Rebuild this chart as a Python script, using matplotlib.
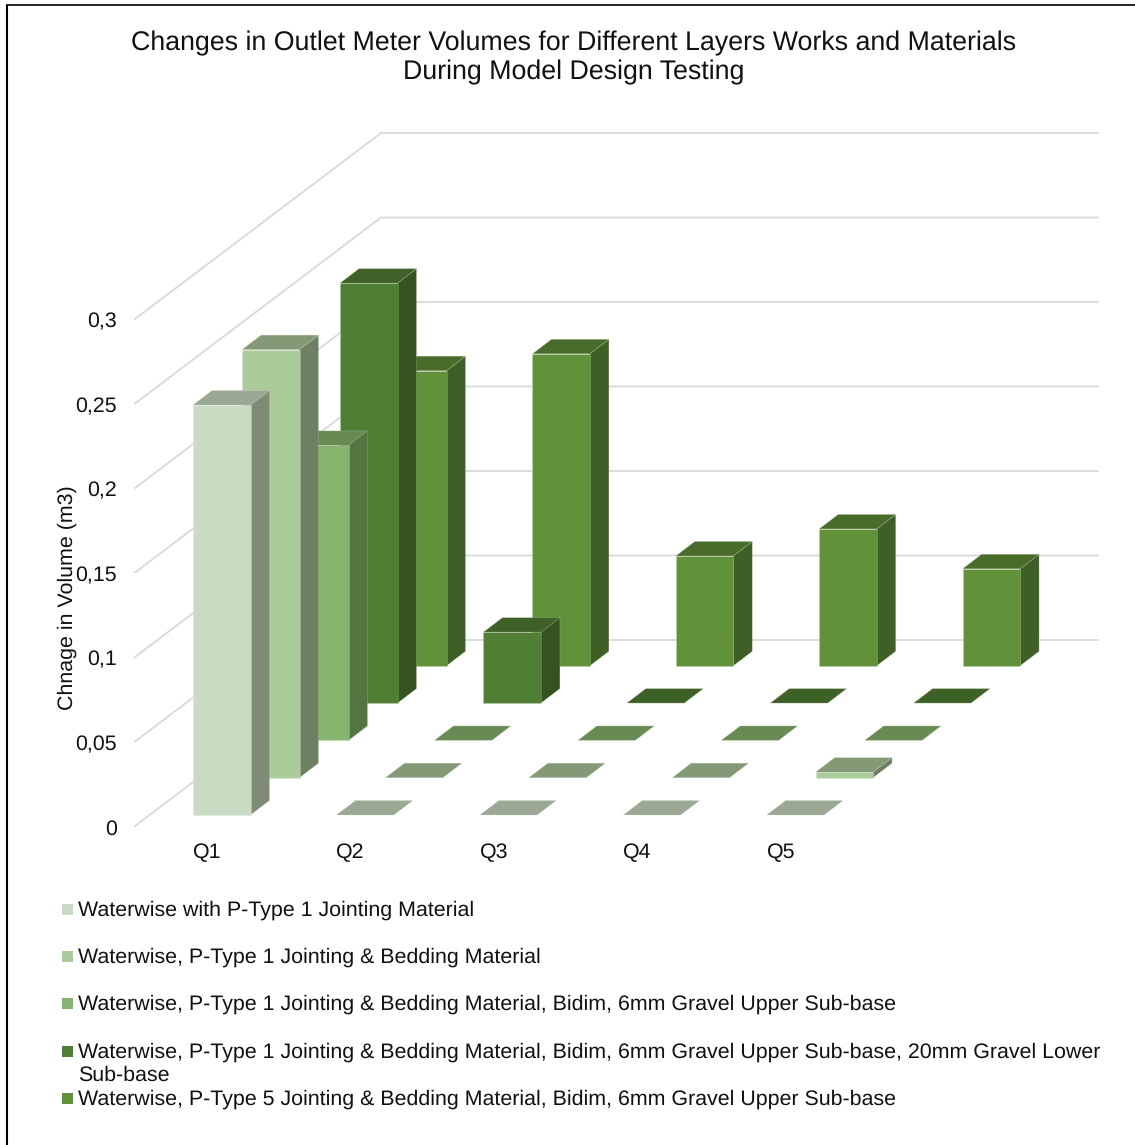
import matplotlib
matplotlib.use("Agg")
import matplotlib.pyplot as plt
from matplotlib.patches import Polygon, Rectangle

plt.rcParams['font.family'] = ['Liberation Sans', 'DejaVu Sans']
plt.rcParams['text.hinting'] = 'no_hinting'

quarters = ['Q1', 'Q2', 'Q3', 'Q4', 'Q5']
series_names = [
    'Waterwise with P-Type 1 Jointing Material',
    'Waterwise, P-Type 1 Jointing & Bedding Material',
    'Waterwise, P-Type 1 Jointing & Bedding Material, Bidim, 6mm Gravel Upper Sub-base',
    'Waterwise, P-Type 1 Jointing & Bedding Material, Bidim, 6mm Gravel Upper Sub-base, 20mm Gravel Lower\nSub-base',
    'Waterwise, P-Type 5 Jointing & Bedding Material, Bidim, 6mm Gravel Upper Sub-base',
]
s1_values = [0.2426, 0, 0, 0, 0]
s2_values = [0.2533, 0, 0, 0, 0.0033]
s3_values = [0.1746, 0, 0, 0, 0]
s4_values = [0.2485, 0.042, 0, 0, 0]
s5_values = [0.1746, 0.1846, 0.065, 0.081, 0.0574]
all_values = [s1_values, s2_values, s3_values, s4_values, s5_values]
y_ticks = [0, 0.05, 0.1, 0.15, 0.2, 0.25, 0.3]
y_tick_labels = ['0', '0,05', '0,1', '0,15', '0,2', '0,25', '0,3']

# (front, side, top) for each series
colors = [
    ('#c9dbc2', '#7f8b77', '#9ba893'),
    ('#accb9b', '#6e8064', '#849976'),
    ('#87b56f', '#537540', '#678b53'),
    ('#507e32', '#355220', '#3e6127'),
    ('#61923a', '#3e5f25', '#4a6c2b'),
]

W, H = 1135, 1145
PX_PER_UNIT = 84.5 / 0.05
BAR_W = 57.5
DEPTH_X, DEPTH_Y = 19, -14.5
EDGE = (0.85, 0.9, 0.82, 0.22)
TEXT = '#111111'


def bar_base(q, s):
    # front-left corner of a bar on the floor
    return 193 + 143.4 * q + 49.0 * s, 815 - 37.3 * s


def draw_bar(ax, q, s, value):
    x, y0 = bar_base(q, s)
    h = value * PX_PER_UNIT
    y1 = y0 - h
    front, side, top = colors[s]
    dx, dy = DEPTH_X, DEPTH_Y
    if value > 0:
        ax.add_patch(Polygon([(x + BAR_W, y0), (x + BAR_W + dx, y0 + dy), (x + BAR_W + dx, y1 + dy), (x + BAR_W, y1)],
                             fc=side, ec=EDGE, lw=0.6, zorder=3))
        ax.add_patch(Rectangle((x, y1), BAR_W, h, fc=front, ec=EDGE, lw=0.6, zorder=3))
    ax.add_patch(Polygon([(x, y1), (x + dx, y1 + dy), (x + BAR_W + dx, y1 + dy), (x + BAR_W, y1)],
                         fc=top, ec=EDGE, lw=0.6, zorder=3))


fig = plt.figure(figsize=(W / 100, H / 100), dpi=100)
ax = fig.add_axes([0, 0, 1, 1])
ax.set_xlim(0, W)
ax.set_ylim(H, 0)
ax.axis('off')

# chart frame
ax.plot([7, 7], [H, 5], color='black', lw=1.5, zorder=1, solid_capstyle='butt')
ax.plot([6, W], [5, 5], color='black', lw=1.2, zorder=1, solid_capstyle='butt')

# gridlines: side wall then back wall
for v, lab in zip(y_ticks, y_tick_labels):
    h = v * PX_PER_UNIT
    ax.plot([135, 381, 1098], [826 - h, 640 - h, 640 - h], color='#d9d9d9', lw=1.3, zorder=1,
            solid_joinstyle='miter')
    ax.text(117, 827 - h, lab, ha='right', va='center_baseline', fontsize=15.4, color=TEXT)

# back series first so the front ones overlap them
for s in range(4, -1, -1):
    for q, val in enumerate(all_values[s]):
        draw_bar(ax, q, s, val)

for q, name in enumerate(quarters):
    ax.text(193 + 143.4 * q, 850, name, ha='left', va='center_baseline', fontsize=15.4, color=TEXT)

ax.text(67.5, 598, 'Chnage in Volume (m3)', rotation=90, ha='center', va='center', fontsize=15.4, color=TEXT)

ax.text(574, 57.5, 'Changes in Outlet Meter Volumes for Different Layers Works and Materials\nDuring Model Design Testing',
        ha='center', va='center', fontsize=19.25, color=TEXT, linespacing=1.2)

# legend
legend_y = [909, 956, 1003, 1051, 1098]
for s, (name, ly) in enumerate(zip(series_names, legend_y)):
    ax.add_patch(Rectangle((62, ly - 5.5), 11, 11, fc=colors[s][0], ec='none'))
    ax.text(78, ly - 9, name, ha='left', va='top', fontsize=15.42, color=TEXT, linespacing=1.25)

fig.savefig('out.png', dpi=100)
